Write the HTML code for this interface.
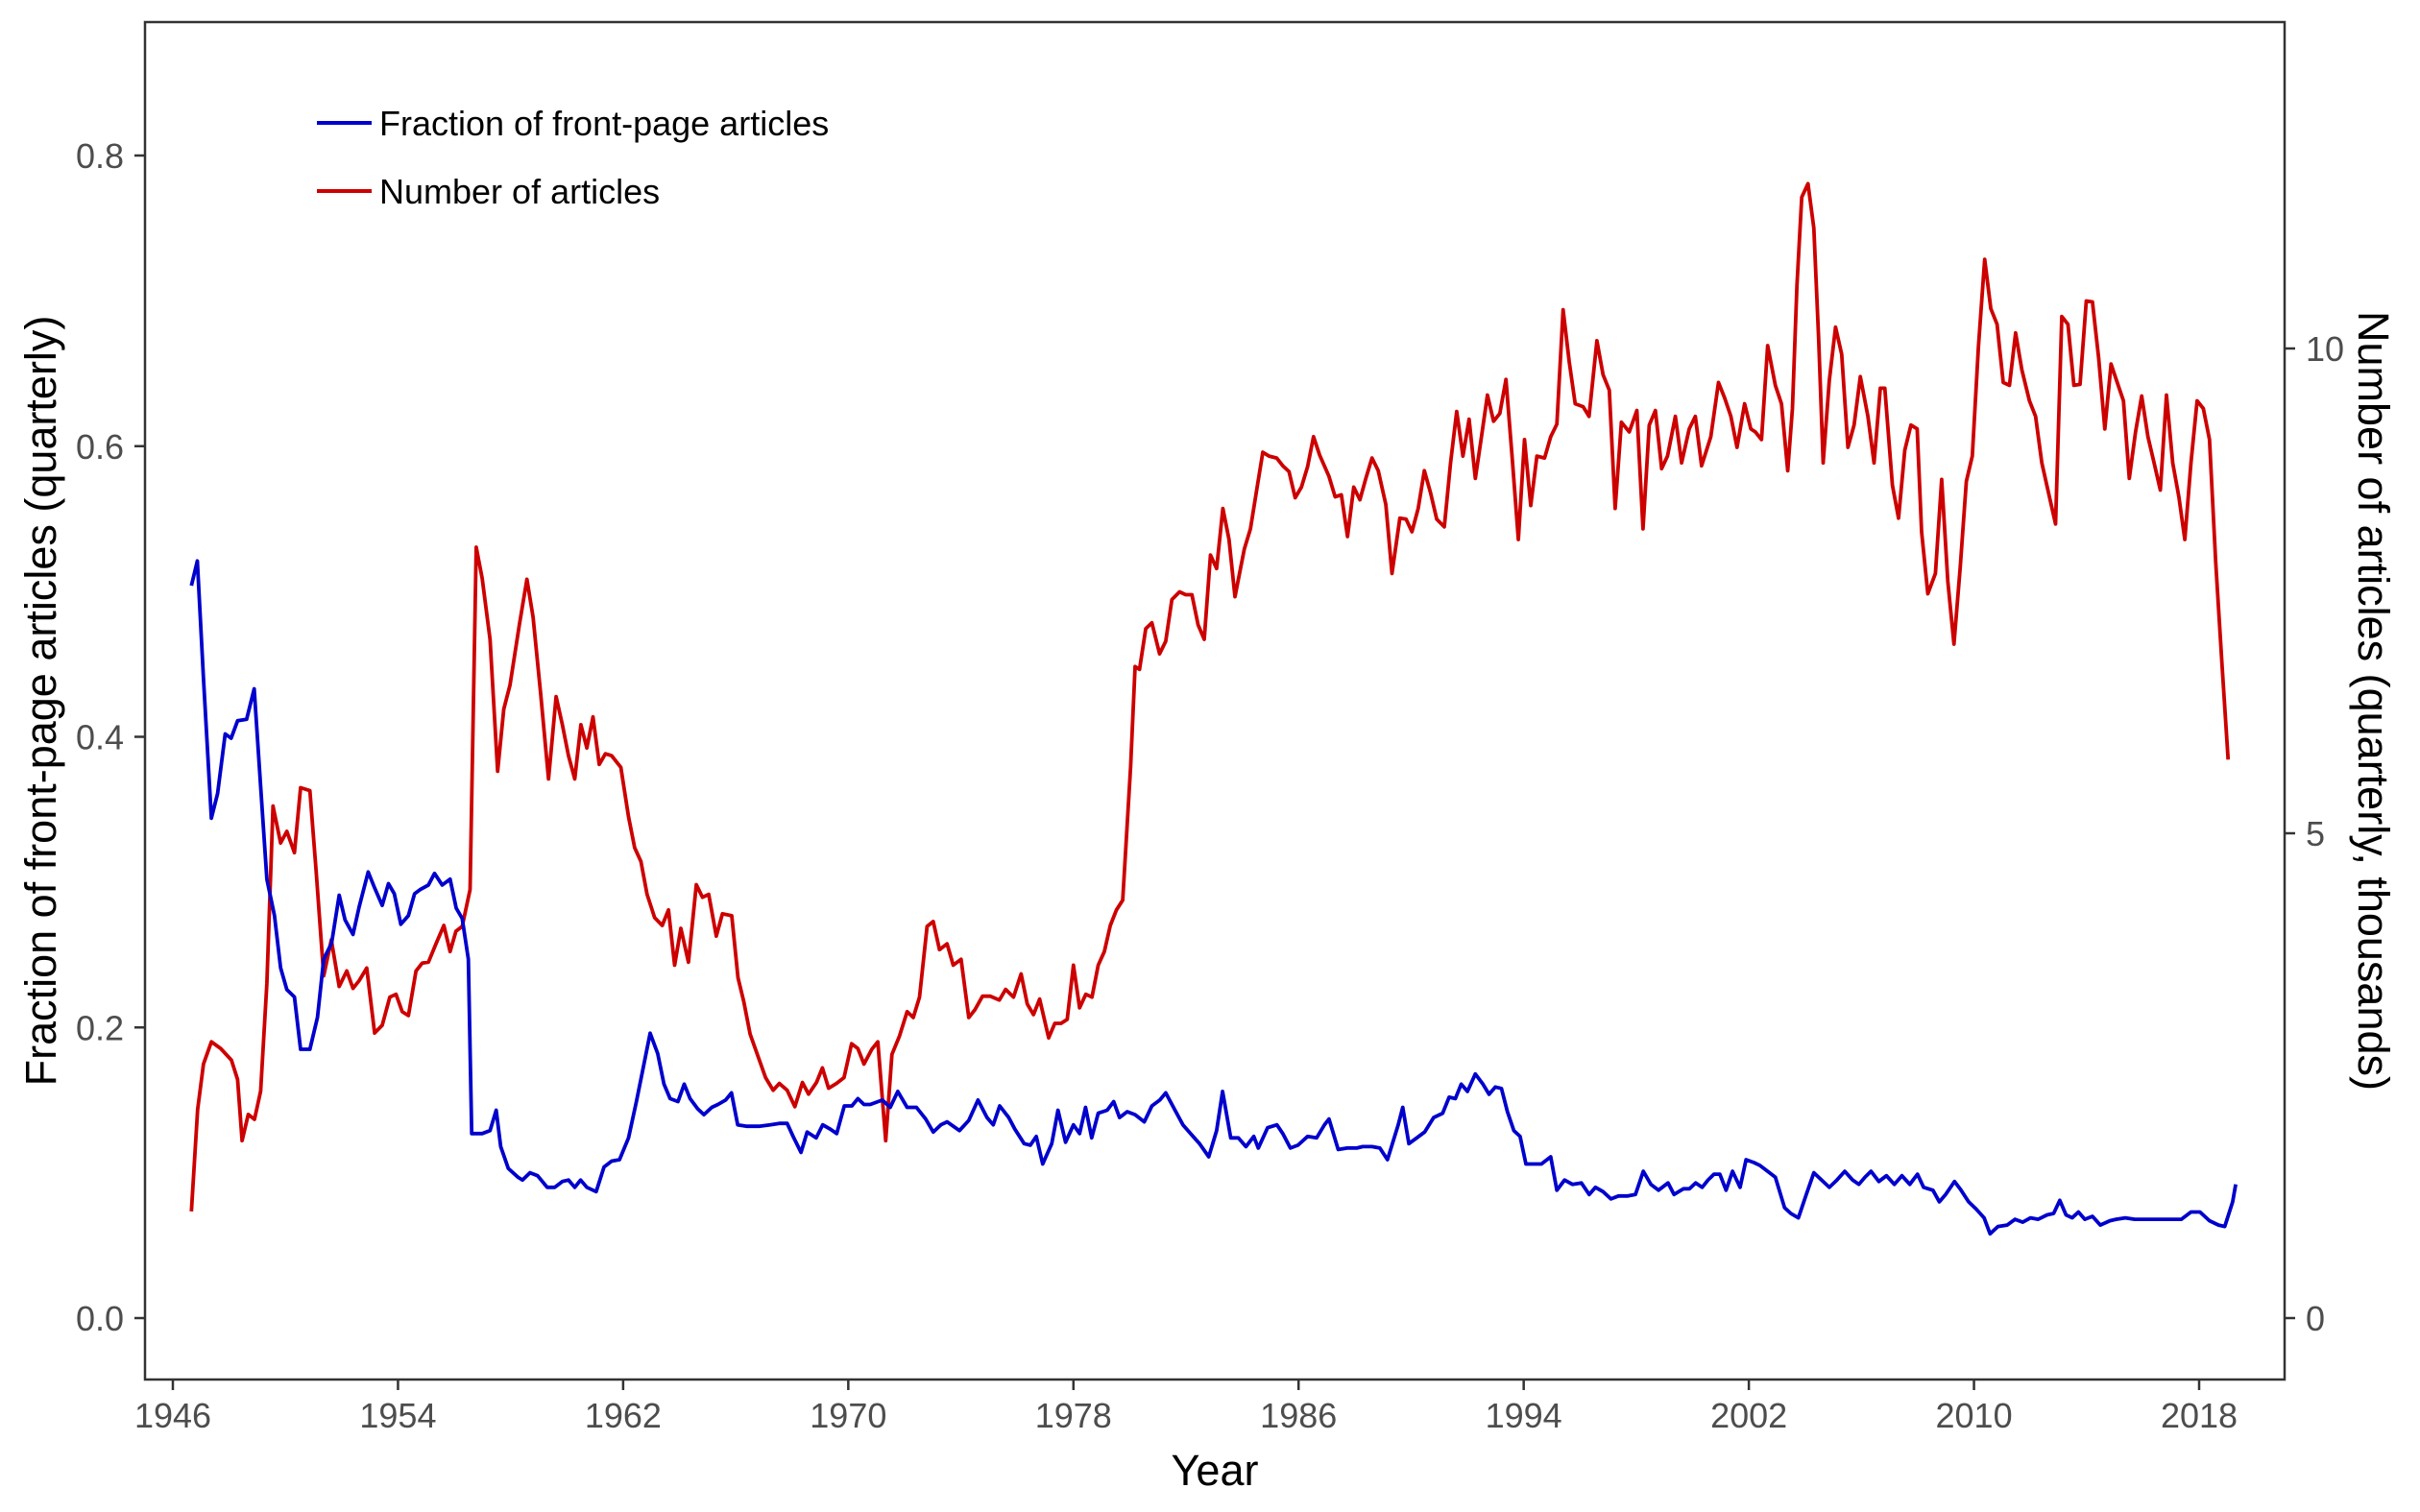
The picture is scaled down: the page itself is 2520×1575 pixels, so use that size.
<!DOCTYPE html>
<html><head><meta charset="utf-8"><title>Front-page articles chart</title>
<style>
html,body{margin:0;padding:0;background:#fff;}
svg{display:block;font-family:"Liberation Sans",Arial,sans-serif;}
</style></head>
<body>
<svg id="chart" width="2520" height="1575" viewBox="0 0 2520 1575" xmlns="http://www.w3.org/2000/svg">
<rect x="0" y="0" width="2520" height="1575" fill="#fff"/>
<g id="series"></g>
<g id="axes"></g>
<g>
  <line x1="330" y1="128" x2="387" y2="128" stroke="#0000CD" stroke-width="4"/>
  <text x="395" y="141" font-size="36" fill="#000">Fraction of front-page articles</text>
  <line x1="330" y1="199" x2="387" y2="199" stroke="#CD0000" stroke-width="4"/>
  <text x="395" y="212" font-size="36" fill="#000">Number of articles</text>
</g>
<text x="1265" y="1547" font-size="45" text-anchor="middle" fill="#000">Year</text>
<text transform="translate(58,730) rotate(-90)" font-size="45" text-anchor="middle" fill="#000">Fraction of front-page articles (quarterly)</text>
<text transform="translate(2456,730) rotate(90)" font-size="45" text-anchor="middle" fill="#000">Number of articles (quarterly, thousands)</text>
</svg>
<script>
const xTicks = [1946,1954,1962,1970,1978,1986,1994,2002,2010,2018];
const leftTicks = [0.0,0.2,0.4,0.6,0.8];
const leftTickLabels = ["0.0","0.2","0.4","0.6","0.8"];
const rightTicks = [0,5,10];
const rightTickLabels = ["0","5","10"];

const fractionYears = [1946.66,1946.87,1947.09,1947.37,1947.59,1947.86,1948.07,1948.30,1948.62,1948.89,1949.12,1949.34,1949.61,1949.83,1950.05,1950.32,1950.54,1950.87,1951.14,1951.36,1951.64,1951.91,1952.12,1952.40,1952.62,1952.94,1953.17,1953.44,1953.66,1953.87,1954.10,1954.37,1954.59,1954.80,1955.08,1955.30,1955.57,1955.85,1956.07,1956.28,1956.50,1956.62,1956.99,1957.27,1957.49,1957.65,1957.92,1958.26,1958.42,1958.69,1958.96,1959.30,1959.57,1959.84,1960.06,1960.28,1960.49,1960.71,1961.04,1961.32,1961.59,1961.87,1962.19,1962.47,1962.69,1962.96,1963.23,1963.45,1963.67,1963.95,1964.17,1964.38,1964.65,1964.87,1965.15,1965.37,1965.64,1965.85,1966.07,1966.40,1966.83,1967.22,1967.55,1967.83,1968.04,1968.32,1968.54,1968.86,1969.09,1969.36,1969.59,1969.86,1970.13,1970.34,1970.56,1970.78,1971.21,1971.49,1971.76,1972.09,1972.42,1972.75,1973.02,1973.29,1973.51,1973.95,1974.28,1974.61,1974.93,1975.15,1975.38,1975.70,1975.92,1976.25,1976.47,1976.68,1976.91,1977.23,1977.45,1977.72,1978.00,1978.22,1978.43,1978.65,1978.88,1979.20,1979.43,1979.64,1979.91,1980.19,1980.52,1980.79,1981.07,1981.28,1981.61,1981.89,1982.16,1982.48,1982.81,1983.09,1983.30,1983.59,1983.86,1984.13,1984.41,1984.57,1984.90,1985.23,1985.44,1985.71,1985.98,1986.32,1986.64,1986.92,1987.08,1987.41,1987.73,1988.07,1988.28,1988.61,1988.89,1989.16,1989.54,1989.70,1989.92,1990.20,1990.48,1990.80,1991.12,1991.35,1991.57,1991.78,1992.00,1992.28,1992.55,1992.77,1992.99,1993.21,1993.42,1993.65,1993.87,1994.08,1994.30,1994.63,1994.96,1995.18,1995.45,1995.73,1996.05,1996.33,1996.55,1996.82,1997.10,1997.37,1997.70,1997.97,1998.25,1998.52,1998.79,1999.13,1999.34,1999.68,1999.89,2000.11,2000.34,2000.55,2000.76,2000.97,2001.19,2001.42,2001.69,2001.90,2002.18,2002.40,2002.67,2002.94,2003.27,2003.49,2003.76,2004.04,2004.31,2004.64,2004.86,2005.13,2005.41,2005.69,2005.91,2006.13,2006.34,2006.62,2006.89,2007.17,2007.44,2007.72,2007.99,2008.21,2008.54,2008.77,2008.99,2009.31,2009.54,2009.81,2010.08,2010.36,2010.57,2010.85,2011.18,2011.46,2011.73,2012.01,2012.28,2012.60,2012.83,2013.05,2013.27,2013.49,2013.71,2013.94,2014.21,2014.49,2014.83,2015.05,2015.38,2015.71,2016.15,2016.70,2017.37,2017.71,2018.03,2018.37,2018.69,2018.91,2019.19,2019.30];
const fractionValues = [0.504,0.521,0.440,0.344,0.361,0.402,0.399,0.411,0.412,0.433,0.366,0.302,0.277,0.241,0.226,0.221,0.185,0.185,0.207,0.247,0.258,0.291,0.274,0.264,0.283,0.307,0.296,0.284,0.299,0.292,0.271,0.277,0.292,0.295,0.298,0.306,0.298,0.302,0.282,0.275,0.247,0.127,0.127,0.129,0.143,0.118,0.103,0.097,0.095,0.100,0.098,0.090,0.090,0.094,0.095,0.090,0.095,0.090,0.087,0.104,0.108,0.109,0.124,0.149,0.170,0.196,0.182,0.161,0.151,0.149,0.161,0.151,0.144,0.140,0.145,0.147,0.150,0.155,0.133,0.132,0.132,0.133,0.134,0.134,0.125,0.114,0.128,0.124,0.133,0.130,0.127,0.146,0.146,0.151,0.147,0.147,0.150,0.145,0.156,0.145,0.145,0.137,0.128,0.133,0.135,0.129,0.136,0.150,0.138,0.133,0.146,0.138,0.130,0.120,0.119,0.125,0.106,0.120,0.143,0.121,0.133,0.127,0.145,0.124,0.141,0.143,0.149,0.138,0.142,0.140,0.135,0.146,0.150,0.155,0.143,0.133,0.127,0.120,0.111,0.129,0.156,0.124,0.124,0.118,0.125,0.117,0.131,0.133,0.127,0.117,0.119,0.125,0.124,0.133,0.137,0.116,0.117,0.117,0.118,0.118,0.117,0.109,0.133,0.145,0.120,0.124,0.128,0.138,0.141,0.152,0.151,0.161,0.156,0.168,0.161,0.154,0.159,0.158,0.142,0.129,0.125,0.106,0.106,0.106,0.111,0.088,0.095,0.092,0.093,0.085,0.090,0.087,0.082,0.084,0.084,0.085,0.101,0.092,0.088,0.093,0.085,0.089,0.089,0.093,0.090,0.095,0.099,0.099,0.088,0.101,0.090,0.109,0.107,0.105,0.101,0.097,0.076,0.072,0.069,0.085,0.100,0.094,0.090,0.095,0.101,0.095,0.092,0.097,0.101,0.094,0.098,0.092,0.098,0.092,0.099,0.090,0.088,0.080,0.085,0.094,0.088,0.080,0.075,0.069,0.058,0.063,0.064,0.068,0.066,0.069,0.068,0.071,0.072,0.081,0.071,0.069,0.073,0.068,0.070,0.064,0.067,0.068,0.069,0.068,0.068,0.068,0.068,0.073,0.073,0.067,0.064,0.063,0.080,0.092];

const countYears = [1946.66,1946.88,1947.09,1947.37,1947.70,1948.08,1948.30,1948.46,1948.68,1948.90,1949.12,1949.34,1949.56,1949.83,1950.05,1950.32,1950.54,1950.87,1951.09,1951.36,1951.63,1951.91,1952.18,1952.40,1952.62,1952.89,1953.17,1953.44,1953.71,1953.93,1954.15,1954.37,1954.64,1954.86,1955.08,1955.35,1955.63,1955.85,1956.06,1956.28,1956.56,1956.78,1956.99,1957.27,1957.54,1957.76,1957.98,1958.31,1958.58,1958.80,1959.07,1959.35,1959.62,1959.84,1960.06,1960.28,1960.50,1960.71,1960.93,1961.15,1961.37,1961.59,1961.92,1962.19,1962.41,1962.63,1962.85,1963.12,1963.39,1963.61,1963.83,1964.05,1964.32,1964.60,1964.82,1965.04,1965.31,1965.53,1965.86,1966.08,1966.29,1966.51,1966.79,1967.06,1967.33,1967.55,1967.83,1968.10,1968.37,1968.59,1968.87,1969.08,1969.30,1969.58,1969.85,1970.12,1970.34,1970.56,1970.83,1971.05,1971.33,1971.55,1971.82,1972.09,1972.31,1972.53,1972.80,1973.02,1973.24,1973.51,1973.73,1974.01,1974.28,1974.50,1974.77,1975.05,1975.37,1975.59,1975.87,1976.14,1976.36,1976.58,1976.80,1977.12,1977.34,1977.56,1977.78,1978.00,1978.22,1978.44,1978.66,1978.88,1979.10,1979.31,1979.53,1979.75,1980.03,1980.19,1980.35,1980.57,1980.79,1981.06,1981.28,1981.50,1981.77,1981.99,1982.21,1982.43,1982.65,1982.87,1983.09,1983.31,1983.53,1983.74,1984.07,1984.29,1984.51,1984.73,1984.95,1985.22,1985.44,1985.66,1985.88,1986.10,1986.32,1986.53,1986.75,1987.08,1987.30,1987.52,1987.74,1987.96,1988.18,1988.39,1988.61,1988.83,1989.10,1989.32,1989.60,1989.82,1990.03,1990.25,1990.47,1990.69,1990.91,1991.18,1991.40,1991.62,1991.84,1992.06,1992.28,1992.50,1992.71,1992.93,1993.15,1993.37,1993.59,1993.81,1994.03,1994.25,1994.47,1994.74,1994.96,1995.18,1995.40,1995.62,1995.83,1996.11,1996.32,1996.60,1996.82,1997.04,1997.25,1997.47,1997.75,1998.02,1998.24,1998.46,1998.68,1998.90,1999.11,1999.39,1999.61,1999.88,2000.10,2000.32,2000.65,2000.92,2001.14,2001.36,2001.58,2001.85,2002.07,2002.23,2002.45,2002.67,2002.94,2003.16,2003.38,2003.55,2003.71,2003.88,2004.10,2004.31,2004.48,2004.64,2004.86,2005.08,2005.30,2005.52,2005.74,2005.96,2006.23,2006.45,2006.67,2006.83,2007.10,2007.32,2007.54,2007.76,2007.98,2008.14,2008.36,2008.63,2008.85,2009.07,2009.29,2009.51,2009.73,2009.94,2010.16,2010.38,2010.60,2010.82,2011.04,2011.26,2011.48,2011.70,2011.97,2012.19,2012.41,2012.68,2012.90,2013.12,2013.34,2013.55,2013.77,2013.99,2014.21,2014.43,2014.65,2014.87,2015.09,2015.31,2015.52,2015.74,2015.96,2016.18,2016.40,2016.62,2016.84,2017.06,2017.28,2017.49,2017.71,2017.93,2018.15,2018.37,2018.59,2018.81,2019.03,2019.22];
const countValues = [1.10,2.15,2.62,2.85,2.78,2.66,2.46,1.83,2.10,2.05,2.34,3.45,5.28,4.90,5.02,4.80,5.47,5.44,4.61,3.53,3.90,3.42,3.58,3.40,3.48,3.61,2.94,3.02,3.31,3.34,3.16,3.12,3.58,3.66,3.67,3.86,4.05,3.78,3.99,4.04,4.42,7.95,7.63,7.00,5.64,6.28,6.53,7.15,7.62,7.23,6.44,5.56,6.41,6.12,5.80,5.56,6.12,5.88,6.20,5.71,5.82,5.80,5.68,5.17,4.85,4.71,4.37,4.13,4.05,4.21,3.64,4.02,3.67,4.47,4.34,4.37,3.94,4.17,4.15,3.51,3.26,2.93,2.70,2.48,2.35,2.42,2.35,2.18,2.43,2.31,2.43,2.58,2.37,2.42,2.48,2.83,2.78,2.62,2.77,2.85,1.83,2.72,2.91,3.16,3.10,3.31,4.04,4.09,3.80,3.86,3.64,3.70,3.10,3.18,3.32,3.32,3.28,3.39,3.31,3.55,3.24,3.13,3.29,2.89,3.04,3.04,3.08,3.64,3.20,3.34,3.31,3.64,3.78,4.05,4.21,4.31,5.68,6.72,6.69,7.11,7.17,6.85,6.98,7.41,7.49,7.46,7.46,7.15,7.00,7.87,7.73,8.35,8.03,7.44,7.93,8.14,8.54,8.93,8.89,8.87,8.79,8.73,8.46,8.57,8.78,9.09,8.90,8.68,8.47,8.49,8.06,8.57,8.44,8.66,8.87,8.74,8.39,7.68,8.25,8.24,8.11,8.35,8.74,8.51,8.24,8.16,8.82,9.35,8.89,9.27,8.66,9.09,9.52,9.25,9.33,9.68,8.87,8.03,9.06,8.38,8.89,8.87,9.09,9.22,10.40,9.86,9.43,9.40,9.30,10.08,9.73,9.57,8.35,9.24,9.14,9.36,8.14,9.21,9.36,8.76,8.89,9.30,8.82,9.17,9.30,8.79,9.09,9.65,9.49,9.30,8.98,9.43,9.17,9.14,9.06,10.03,9.62,9.43,8.74,9.38,10.65,11.56,11.70,11.24,10.10,8.82,9.67,10.22,9.94,8.98,9.21,9.71,9.30,8.82,9.59,9.59,8.59,8.25,8.95,9.21,9.17,8.11,7.47,7.68,8.65,7.60,6.95,7.74,8.63,8.89,10.02,10.92,10.41,10.25,9.65,9.62,10.16,9.78,9.46,9.30,8.82,8.47,8.19,10.33,10.25,9.62,9.63,10.49,10.48,9.90,9.17,9.84,9.65,9.46,8.66,9.14,9.51,9.09,8.82,8.54,9.52,8.82,8.47,8.03,8.82,9.46,9.38,9.06,7.79,6.76,5.76];

const NS = "http://www.w3.org/2000/svg";
const P = {left:151, right:2379, top:23, bottom:1437};
function xScale(yr){ return 180 + (yr - 1946) * (2290 - 180) / 72; }
function yLeft(v){ return 1373 - v * (1373 - 162) / 0.8; }
function yRight(k){ return 1373 - k * (1373 - 363) / 10; }

function mk(tag, attrs, parent){
  const el = document.createElementNS(NS, tag);
  for (const k in attrs) el.setAttribute(k, attrs[k]);
  parent.appendChild(el);
  return el;
}
const series = document.getElementById('series');
const axes = document.getElementById('axes');

function linePath(xs, ys, yfn){
  let d = "";
  for (let i = 0; i < xs.length; i++) d += (i ? "L" : "M") + xScale(xs[i]).toFixed(1) + "," + yfn(ys[i]).toFixed(1);
  return d;
}
const redLine = mk('path', {d: linePath(countYears, countValues, yRight), fill:'none', stroke:'#CD0000', 'stroke-width':3.8, 'stroke-linejoin':'round'}, series);


const blueLine = mk('path', {d: linePath(fractionYears, fractionValues, yLeft), fill:'none', stroke:'#0000CD', 'stroke-width':3.8, 'stroke-linejoin':'round'}, series);



const frame = mk('rect', {x:P.left, y:P.top, width:P.right-P.left, height:P.bottom-P.top, fill:'none', stroke:'#333', 'stroke-width':2.5}, axes);



xTicks.forEach(function(t){
  const x = xScale(t);
  const tk = mk('line', {x1:x, x2:x, y1:P.bottom, y2:P.bottom+11, stroke:'#333', 'stroke-width':2.5}, axes);
  
  
  const lb = mk('text', {x:x, y:1487, 'font-size':36, 'text-anchor':'middle', fill:'#4D4D4D'}, axes);
  lb.textContent = String(t);
  
  
});
leftTicks.forEach(function(v, i){
  const y = yLeft(v);
  const tk = mk('line', {x1:P.left-11, x2:P.left, y1:y, y2:y, stroke:'#333', 'stroke-width':2.5}, axes);
  
  
  const lb = mk('text', {x:129, y:y+13, 'font-size':36, 'text-anchor':'end', fill:'#4D4D4D'}, axes);
  lb.textContent = leftTickLabels[i];
  
  
});
rightTicks.forEach(function(v, i){
  const y = yRight(v);
  const tk = mk('line', {x1:P.right, x2:P.right+11, y1:y, y2:y, stroke:'#333', 'stroke-width':2.5}, axes);
  
  
  const lb = mk('text', {x:2401, y:y+13, 'font-size':36, 'text-anchor':'start', fill:'#4D4D4D'}, axes);
  lb.textContent = rightTickLabels[i];
  
  
});
</script>
</body></html>
